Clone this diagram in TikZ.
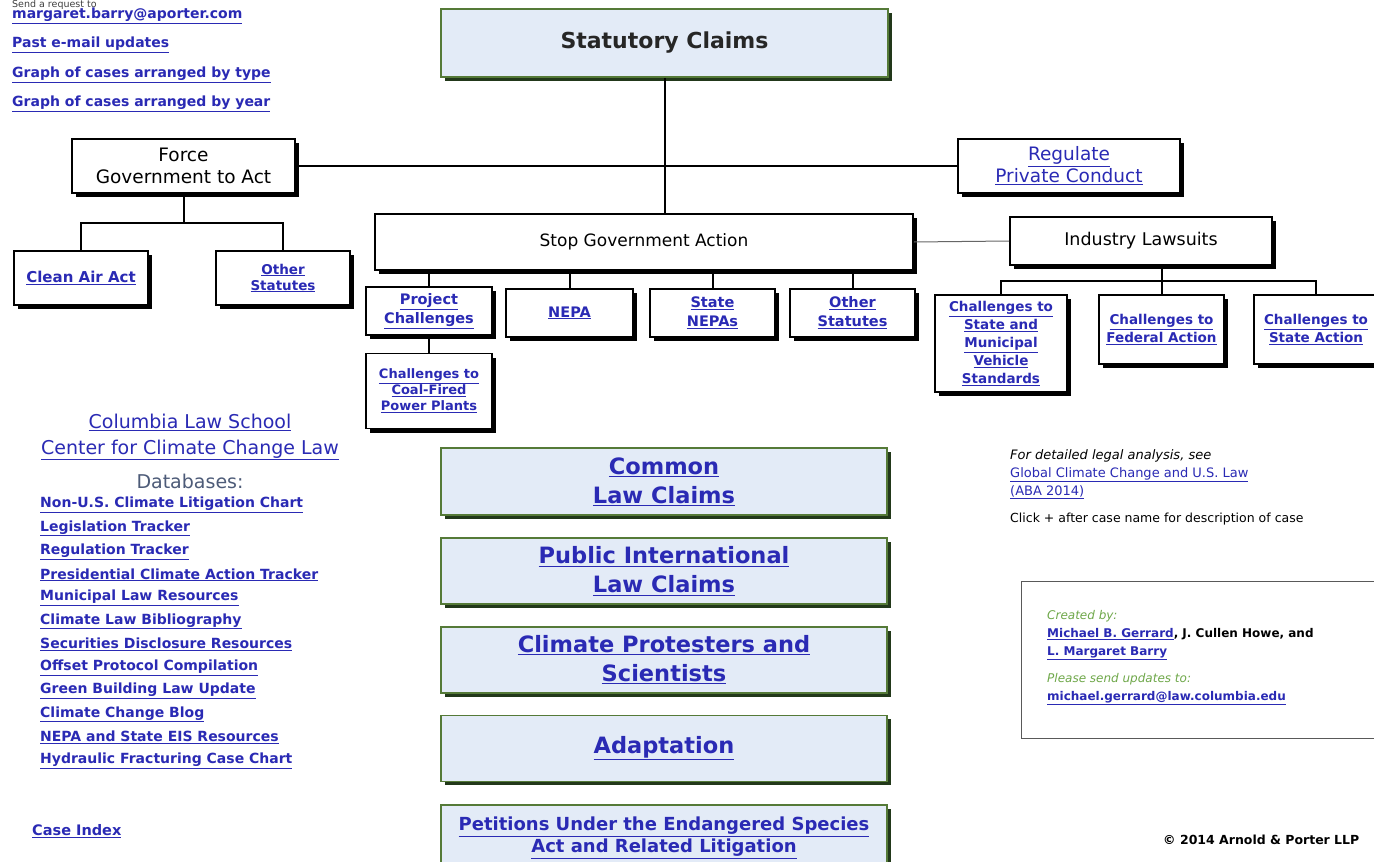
\documentclass[tikz,border=0pt]{standalone}
\usepackage{fontspec}
\setmainfont{DejaVu Sans}
\usetikzlibrary{calc, positioning, shadows}
\definecolor{linkblue}{HTML}{2A2AB4}
\definecolor{boxfill}{HTML}{E3EBF7}
\definecolor{boxline}{HTML}{557A38}
\definecolor{boxshade}{HTML}{22381A}
\definecolor{dbgray}{HTML}{4D5B78}
\definecolor{credgreen}{HTML}{6FA84A}
\newcommand{\lnk}[1]{\textcolor{linkblue}{\underline{#1}}}
\newcommand{\fsz}[2]{\fontsize{#1}{#2}\selectfont}

\begin{document}
\begin{tikzpicture}[x=1pt, y=-1pt,
    plainbox/.style={draw=black, line width=1.6pt, fill=white, align=center, inner sep=1pt,
      drop shadow={shadow xshift=4pt, shadow yshift=-4pt, fill=black, opacity=1}},
    kidbox/.style={plainbox, font={\bfseries\fsz{14.5}{19}}},
    claimbox/.style={draw=boxline, line width=1.6pt, fill=boxfill, align=center,
      minimum width=446pt, minimum height=66pt, font={\bfseries\fsz{22.5}{29}},
      drop shadow={shadow xshift=4pt, shadow yshift=-4pt, fill=boxshade, opacity=1}},
    linkline/.style={anchor=west, inner sep=0pt, font={\bfseries\fsz{14}{17}}},
    wire/.style={draw=black, line width=2pt},
    thinwire/.style={draw=black!60, line width=1pt}]

  \fill[white] (0,0) rectangle (1374,862);
  \useasboundingbox (0,0) rectangle (1374,862);

  % statutory tree
  \node[claimbox, minimum width=447pt, minimum height=68pt, font={\bfseries\fsz{22}{26}}, text=black!85] (statutory) at (664.5,43) {Statutory Claims};
  \node[plainbox, minimum width=223pt, minimum height=54pt, font={\fsz{18.5}{22}}] (force) at (183.5,166) {Force\\Government to Act};
  \node[plainbox, minimum width=222pt, minimum height=54pt, font={\fsz{18.5}{22}}] (regulate) at (1069,166) {\lnk{Regulate}\\\lnk{Private Conduct}};
  \node[plainbox, minimum width=538pt, minimum height=56pt, font={\fsz{17}{20}}] (stopgov) at (644,242) {Stop Government Action};
  \node[plainbox, minimum width=262pt, minimum height=48pt, font={\fsz{17.5}{20}}] (industry) at (1141,241) {Industry Lawsuits};

  \node[kidbox, minimum width=134pt, minimum height=54pt, font={\bfseries\fsz{15}{18}}] (cleanair) at (81,278) {\lnk{Clean Air Act}};
  \node[kidbox, minimum width=134pt, minimum height=54pt, font={\bfseries\fsz{13.5}{16}}] (otherleft) at (283,278) {\lnk{Other}\\\lnk{Statutes}};

  \node[kidbox, minimum width=126pt, minimum height=48pt] (project) at (429,311) {\lnk{Project}\\\lnk{Challenges}};
  \node[kidbox, minimum width=127pt, minimum height=48pt] (nepa) at (569.5,313) {\lnk{NEPA}};
  \node[kidbox, minimum width=125pt, minimum height=48pt] (statenepa) at (712.5,313) {\lnk{State}\\\lnk{NEPAs}};
  \node[kidbox, minimum width=125pt, minimum height=48pt] (othermid) at (852.5,313) {\lnk{Other}\\\lnk{Statutes}};
  \node[kidbox, minimum width=126pt, minimum height=75pt, font={\bfseries\fsz{13}{16}}, below=17pt of project] (coal) {\lnk{Challenges to}\\\lnk{Coal-Fired}\\\lnk{Power Plants}};

  \node[kidbox, minimum width=132pt, minimum height=97pt, font={\bfseries\fsz{13.5}{18}}] (vehicle) at (1001,343.5) {\lnk{Challenges to}\\\lnk{State and}\\\lnk{Municipal}\\\lnk{Vehicle}\\\lnk{Standards}};
  \node[kidbox, minimum width=125pt, minimum height=69pt, font={\bfseries\fsz{13.5}{18}}] (federal) at (1161.5,329.5) {\lnk{Challenges to}\\\lnk{Federal Action}};
  \node[kidbox, minimum width=124pt, minimum height=69pt, font={\bfseries\fsz{13.5}{18}}] (stateaction) at (1316,329.5) {\lnk{Challenges to}\\\lnk{State Action}};

  \draw[wire] (statutory.south) -- (statutory.south |- stopgov.north);
  \draw[wire] (force.east) -- (regulate.west);
  \coordinate (forcebus) at ($(force.south)+(0,29)$);
  \draw[wire] (force.south) -- (forcebus);
  \draw[wire] (cleanair.north) |- (forcebus) -| (otherleft.north);
  \foreach \kid in {project, nepa, statenepa, othermid}
    \draw[wire] (\kid.north) -- (\kid.north |- stopgov.south);
  \draw[wire] (project.south) -- (coal.north);
  \draw[thinwire] (stopgov.east) -- (industry.west);
  \coordinate (indbus) at ($(industry.south)+(0,15)$);
  \draw[wire] (federal.north) -- (federal.north |- industry.south);
  \draw[wire] (vehicle.north) |- (indbus) -| (stateaction.north);

  % other claim types
  \node[claimbox, minimum height=67pt] (common) at (664,481.5) {\lnk{Common}\\\lnk{Law Claims}};
  \node[claimbox, below=21.5pt of common] (publicintl) {\lnk{Public International}\\\lnk{Law Claims}};
  \node[claimbox, below=21pt of publicintl] (protesters) {\lnk{Climate Protesters and}\\\lnk{Scientists}};
  \node[claimbox, below=21pt of protesters] (adaptation) {\lnk{Adaptation}};
  \node[claimbox, below=22pt of adaptation, font={\bfseries\fsz{18}{22}}] (petitions) {\lnk{Petitions Under the Endangered Species}\\\lnk{Act and Related Litigation}};

  % left column
  \node[anchor=west, inner sep=0pt, font={\fsz{9.5}{11}}, text=black!75] (sendreq) at (12,5) {Send a request to};
  \node[linkline] (mailbarry) at (12,16) {\lnk{margaret.barry@aporter.com}};
  \node[linkline] (pastmail) at (12,45) {\lnk{Past e-mail updates}};
  \node[linkline] (bytype) at (12,75) {\lnk{Graph of cases arranged by type}};
  \node[linkline] (byyear) at (12,104) {\lnk{Graph of cases arranged by year}};

  \node[align=center, font={\fsz{19}{26}}] (columbia) at (190,437) {\lnk{Columbia Law School}\\\lnk{Center for Climate Change Law}};
  \node[font={\fsz{19}{22}}, text=dbgray] (databases) at (190,481) {Databases:};
  \foreach \dbname [count=\i] in {Non-U.S. Climate Litigation Chart, Legislation Tracker,
      Regulation Tracker, Presidential Climate Action Tracker, Municipal Law Resources,
      Climate Law Bibliography, Securities Disclosure Resources, Offset Protocol Compilation,
      Green Building Law Update, Climate Change Blog, NEPA and State EIS Resources,
      Hydraulic Fracturing Case Chart}
    \node[linkline] (db\i) at (40,{505+23.27*(\i-1)}) {\lnk{\dbname}};
  \node[linkline, font={\bfseries\fsz{14.5}{17}}] (caseindex) at (32,831) {\lnk{Case Index}};

  % right column
  \node[anchor=west, align=left, inner sep=0pt, font={\fsz{13}{18}}] (analysis) at (1010,474) {{\itshape For detailed legal analysis, see}\\\lnk{Global Climate Change and U.S. Law}\\\lnk{(ABA 2014)}};
  \node[anchor=west, inner sep=0pt, font={\fsz{12.5}{14}}] (clickhint) at (1010,519) {Click + after case name for description of case};

  \node[draw=black!65, line width=1.2pt, anchor=north west, minimum width=360pt, minimum height=157pt] (credits) at (1021,581) {};
  \node[anchor=north west, align=left, inner sep=0pt, font={\bfseries\fsz{12}{18}}] (credtext) at ($(credits.north west)+(26,29)$)
    {{\mdseries\itshape\color{credgreen}Created by:}\\\lnk{Michael B. Gerrard}, J. Cullen Howe, and\\\lnk{L. Margaret Barry}\\[9pt]{\mdseries\itshape\color{credgreen}Please send updates to:}\\\lnk{michael.gerrard@law.columbia.edu}};

  \node[anchor=west, inner sep=0pt, font={\bfseries\fsz{12.5}{14}}] (copyright) at (1163,840) {\textcopyright{} 2014 Arnold \& Porter LLP};
\end{tikzpicture}
\end{document}
